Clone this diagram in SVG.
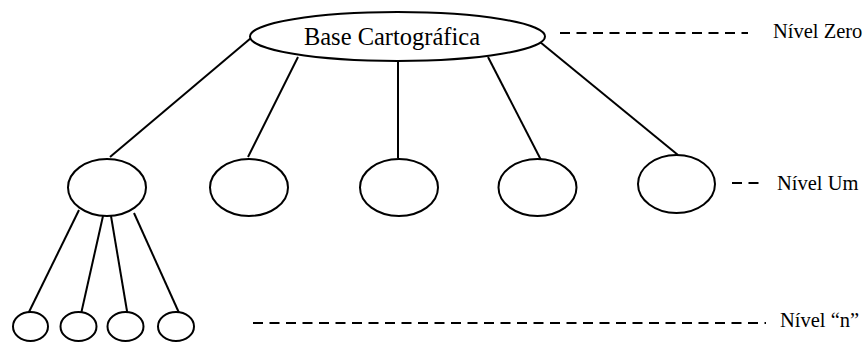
<svg xmlns="http://www.w3.org/2000/svg" width="864" height="343" viewBox="0 0 864 343">
  <style>
    .node { fill: #fff; stroke: #000; stroke-width: 2; }
    .edge { stroke: #000; stroke-width: 2; fill: none; }
    .guide { stroke: #000; stroke-width: 2; stroke-dasharray: 10 6.5; fill: none; }
    .label { font-family: "Liberation Serif", "Times New Roman", serif; font-size: 20.5px; fill: #000; }
    .title { font-family: "Liberation Serif", "Times New Roman", serif; font-size: 24.5px; fill: #000; }
  </style>
  <rect width="864" height="343" fill="#fff"/>

  <!-- tree connectors -->
  <g id="connectors">
    <line class="edge" x1="251" y1="38" x2="110" y2="157"/>
    <line class="edge" x1="298" y1="57" x2="248" y2="157"/>
    <line class="edge" x1="398" y1="61" x2="398" y2="158"/>
    <line class="edge" x1="488" y1="57" x2="541" y2="160"/>
    <line class="edge" x1="540" y1="42" x2="678" y2="155"/>
    <line class="edge" x1="79" y1="210" x2="28" y2="314"/>
    <line class="edge" x1="103" y1="216" x2="81" y2="314"/>
    <line class="edge" x1="111" y1="216" x2="128" y2="317"/>
    <line class="edge" x1="134" y1="213" x2="180" y2="315"/>
  </g>

  <!-- level guides -->
  <g id="guides">
    <line class="guide" x1="560" y1="33" x2="748" y2="33"/>
    <line class="guide" x1="732" y1="183" x2="760" y2="183"/>
    <line class="guide" x1="253" y1="323" x2="766" y2="323"/>
  </g>

  <g id="root">
    <ellipse class="node" cx="397.5" cy="36.5" rx="147.5" ry="24.5"/>
    <text class="title" x="392" y="45" text-anchor="middle">Base Cartográfica</text>
  </g>

  <g id="level1-a"><ellipse class="node" cx="107" cy="187.5" rx="39" ry="28.5"/></g>
  <g id="level1-b"><ellipse class="node" cx="249" cy="187.5" rx="39" ry="28.5"/></g>
  <g id="level1-c"><ellipse class="node" cx="399" cy="187.5" rx="39" ry="28.5"/></g>
  <g id="level1-d"><ellipse class="node" cx="537.5" cy="187.5" rx="39" ry="28.5"/></g>
  <g id="level1-e"><ellipse class="node" cx="676.5" cy="184" rx="38.5" ry="29"/></g>

  <g id="leaf-a"><ellipse class="node" cx="30.5" cy="326.5" rx="17.5" ry="14.5"/></g>
  <g id="leaf-b"><ellipse class="node" cx="78.5" cy="326.5" rx="18" ry="14.5"/></g>
  <g id="leaf-c"><ellipse class="node" cx="125.5" cy="326.5" rx="18" ry="14.5"/></g>
  <g id="leaf-d"><ellipse class="node" cx="176" cy="326.5" rx="18" ry="14.5"/></g>

  <g id="labels">
    <text class="label" x="773" y="38">Nível Zero</text>
    <text class="label" x="777" y="190">Nível Um</text>
    <text class="label" x="780" y="327">Nível “n”</text>
  </g>
</svg>
